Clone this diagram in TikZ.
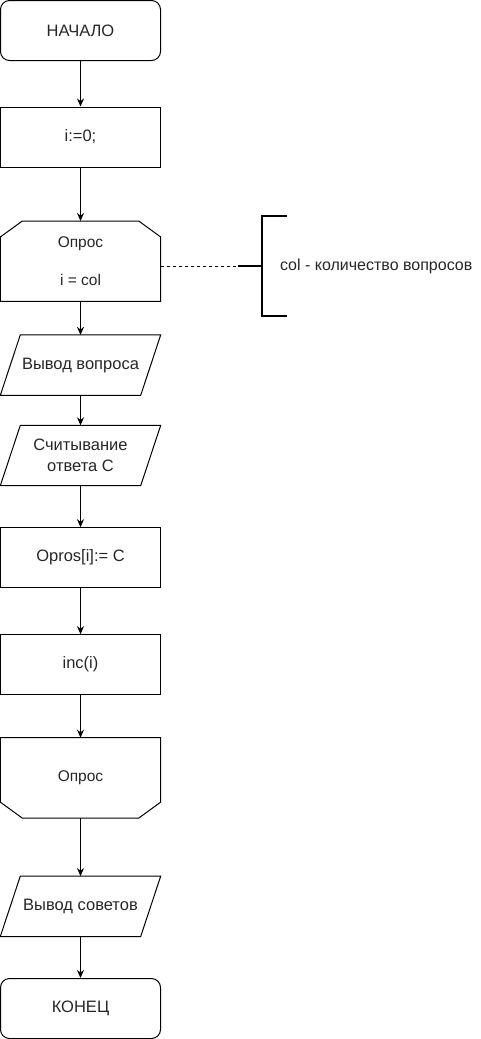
\documentclass[tikz,border=0pt]{standalone}
\usepackage{fontspec}
\setmainfont{Liberation Sans}
\usetikzlibrary{arrows.meta,positioning,calc}

\begin{document}
\begin{tikzpicture}[
    x=1pt, y=1pt,
    node distance=40pt,
    every node/.style={text=black!85, font=\fontsize{16.5}{21}\selectfont},
    box/.style={rectangle, draw, line width=1pt, minimum width=160pt, minimum height=60pt, align=center},
    term/.style={box, rounded corners=9pt},
    io/.style={rectangle, minimum width=160pt, minimum height=60pt, align=center},
    loopbox/.style={rectangle, minimum width=160pt, minimum height=80pt, align=center,
        font=\fontsize{15.5}{19}\selectfont},
    outline/.style={line width=1pt, line join=miter},
    arrow/.style={-{Stealth[length=8pt,width=7pt]}, line width=1pt},
    brace/.style={line width=2pt}
]
    \useasboundingbox (0,0) rectangle (481,-1039);

    \node[term] (start) at (80.5,-30.5) {НАЧАЛО};
    \node[box, below=45.5pt of start] (init) {i:=0;};
    \node[loopbox, below=53.5pt of init] (loopA) {Опрос\\ \\ i = col};
    \node[io, below=33.5pt of loopA] (askQ) {Вывод вопроса};
    \node[io, below=30pt of askQ] (readC) {Считывание\\ответа С};
    \node[box, below=41.5pt of readC] (store) {Opros[i]:= C};
    \node[box, below=46pt of store] (incr) {inc(i)};
    \node[loopbox, below=42.5pt of incr] (loopB) {Опрос};
    \node[io, below=58pt of loopB] (tips) {Вывод советов};
    \node[term, below=41.5pt of tips] (finish) {КОНЕЦ};

    % data blocks
    \foreach \n in {askQ,readC,tips}
        \draw[outline] (\n.south west) -- ($(\n.north west)+(20,0)$) -- (\n.north east) -- ($(\n.south east)+(-20,0)$) -- cycle;

    % loop limits
    \draw[outline] ($(loopA.north west)+(0,-16)$) -- ($(loopA.north west)+(22,0)$) -- ($(loopA.north east)+(-22,0)$)
        -- ($(loopA.north east)+(0,-16)$) -- (loopA.south east) -- (loopA.south west) -- cycle;
    \draw[outline] (loopB.north west) -- (loopB.north east) -- ($(loopB.south east)+(0,16)$)
        -- ($(loopB.south east)+(-22,0)$) -- ($(loopB.south west)+(22,0)$) -- ($(loopB.south west)+(0,16)$) -- cycle;

    % comment on the loop
    \coordinate (brk) at (238,-266);
    \node[anchor=west, font=\fontsize{16}{19}\selectfont, inner sep=0pt] (note) at (280,-266) {col - количество вопросов};
    \draw[dashed, line width=0.8pt] (loopA.east |- brk) -- (brk);
    \draw[brace] (brk) -- ++(24,0);
    \draw[brace] ($(brk)+(49,50)$) -- ++(-25,0) -- ++(0,-100) -- ++(25,0);

    \draw[arrow] (start) -- (init);
    \draw[arrow] (init) -- (loopA);
    \draw[arrow] (loopA) -- (askQ);
    \draw[arrow] (askQ) -- (readC);
    \draw[arrow] (readC) -- (store);
    \draw[arrow] (store) -- (incr);
    \draw[arrow] (incr) -- (loopB);
    \draw[arrow] (loopB) -- (tips);
    \draw[arrow] (tips) -- (finish);
\end{tikzpicture}
\end{document}
